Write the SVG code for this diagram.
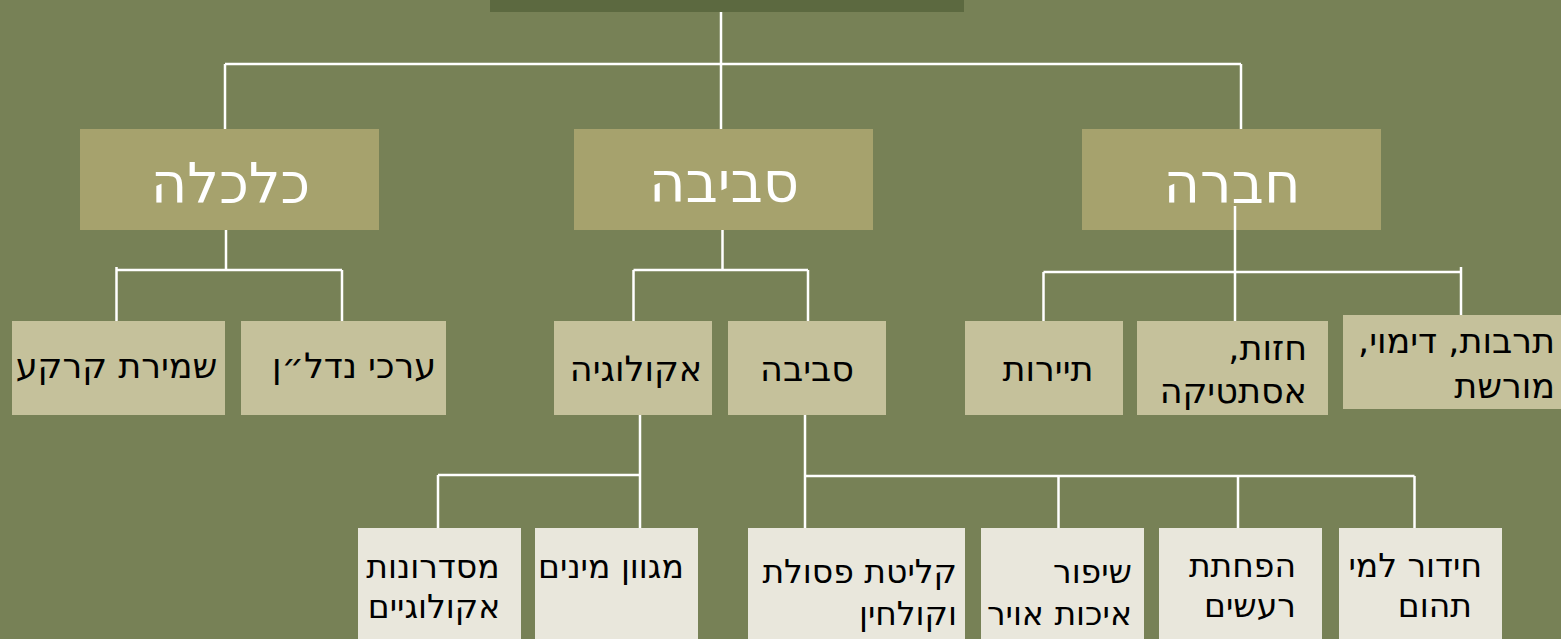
<svg xmlns="http://www.w3.org/2000/svg" width="1561" height="639" viewBox="0 0 1561 639">
<style>
.bg{fill:#778156}
.top{fill:#5c6940}
.l1{fill:#a6a26d}
.l2{fill:#c5c19b}
.l3{fill:#e9e7dc}
.t1{font-family:"DejaVu Sans",sans-serif;font-size:56px;fill:#ffffff}
.t2{font-family:"DejaVu Sans",sans-serif;font-size:35px;fill:#000000}
.t3{font-family:"DejaVu Sans",sans-serif;font-size:33px;fill:#000000}
.c line{stroke:#ffffff;stroke-width:2.5}
</style>
<rect class="bg" x="0" y="0" width="1561" height="639"/>
<g id="root"><rect class="top" x="490" y="0" width="474" height="12"/></g>
<g id="connectors" class="c">
<line x1="721" y1="12" x2="721" y2="129"/>
<line x1="225" y1="64" x2="1241" y2="64"/>
<line x1="225" y1="64" x2="225" y2="129"/>
<line x1="1241" y1="64" x2="1241" y2="129"/>
<line x1="226" y1="230" x2="226" y2="270"/>
<line x1="116.5" y1="270" x2="342" y2="270"/>
<line x1="116.5" y1="267" x2="116.5" y2="321"/>
<line x1="342" y1="270" x2="342" y2="321"/>
<line x1="722.5" y1="230" x2="722.5" y2="270"/>
<line x1="633.5" y1="270" x2="808" y2="270"/>
<line x1="633.5" y1="270" x2="633.5" y2="321"/>
<line x1="808" y1="270" x2="808" y2="321"/>
<line x1="1235" y1="206" x2="1235" y2="321"/>
<line x1="1043.5" y1="272" x2="1461" y2="272"/>
<line x1="1043.5" y1="272" x2="1043.5" y2="321"/>
<line x1="1461" y1="267" x2="1461" y2="315"/>
<line x1="640" y1="415" x2="640" y2="528"/>
<line x1="438" y1="475" x2="641" y2="475"/>
<line x1="438" y1="475" x2="438" y2="528"/>
<line x1="805" y1="415" x2="805" y2="528"/>
<line x1="805" y1="476" x2="1414.5" y2="476"/>
<line x1="1058.5" y1="476" x2="1058.5" y2="528"/>
<line x1="1238" y1="476" x2="1238" y2="528"/>
<line x1="1414.5" y1="476" x2="1414.5" y2="528"/>
</g>
<g id="n-kalkala"><rect class="l1" x="80" y="129" width="299" height="101"/><text class="t1" x="230.5" y="203" text-anchor="middle" direction="rtl">כלכלה</text></g>
<g id="n-sviva"><rect class="l1" x="574" y="129" width="299" height="101"/><text class="t1" x="724" y="202" text-anchor="middle" direction="rtl">סביבה</text></g>
<g id="n-chevra"><rect class="l1" x="1082" y="129" width="299" height="101"/><text class="t1" x="1232" y="203" text-anchor="middle" direction="rtl">חברה</text></g>
<line x1="1235" y1="206" x2="1235" y2="230" stroke="#ffffff" stroke-width="2.5"/>
<g id="n-shmirat"><rect class="l2" x="12" y="321" width="213" height="94"/><text class="t2" x="116.5" y="378" text-anchor="middle" direction="rtl">שמירת קרקע</text></g>
<g id="n-erchei"><rect class="l2" x="241" y="321" width="205" height="94"/><text class="t2" x="354" y="378" text-anchor="middle" direction="rtl">ערכי נדל״ן</text></g>
<g id="n-ecology"><rect class="l2" x="554" y="321" width="158" height="94"/><text class="t2" x="636" y="381" text-anchor="middle" direction="rtl">אקולוגיה</text></g>
<g id="n-sviva2"><rect class="l2" x="728" y="321" width="158" height="94"/><text class="t2" x="807" y="381" text-anchor="middle" direction="rtl">סביבה</text></g>
<g id="n-tayarut"><rect class="l2" x="965" y="321" width="158" height="94"/><text class="t2" x="1048" y="381" text-anchor="middle" direction="rtl">תיירות</text></g>
<g id="n-chazut"><rect class="l2" x="1137" y="321" width="191" height="94"/><text class="t2" x="1307" y="360" text-anchor="start" direction="rtl">חזות,</text><text class="t2" x="1307" y="403" text-anchor="start" direction="rtl">אסתטיקה</text></g>
<g id="n-tarbut"><rect class="l2" x="1343" y="315" width="218" height="94"/><text class="t2" x="1555" y="353" text-anchor="start" direction="rtl">תרבות, דימוי,</text><text class="t2" x="1555" y="398" text-anchor="start" direction="rtl">מורשת</text></g>
<g id="n-misdronot"><rect class="l3" x="358" y="528" width="163" height="111"/><text class="t3" x="433" y="578" text-anchor="middle" direction="rtl">מסדרונות</text><text class="t3" x="434" y="618" text-anchor="middle" direction="rtl">אקולוגיים</text></g>
<g id="n-migvan"><rect class="l3" x="535" y="528" width="163" height="111"/><text class="t3" x="611" y="578" text-anchor="middle" direction="rtl">מגוון מינים</text></g>
<g id="n-klitat"><rect class="l3" x="748" y="528" width="217" height="111"/><text class="t3" x="957" y="583" text-anchor="start" direction="rtl">קליטת פסולת</text><text class="t3" x="957" y="625" text-anchor="start" direction="rtl">וקולחין</text></g>
<g id="n-shipur"><rect class="l3" x="981" y="528" width="163" height="111"/><text class="t3" x="1132" y="583" text-anchor="start" direction="rtl">שיפור</text><text class="t3" x="1132" y="625" text-anchor="start" direction="rtl">איכות אויר</text></g>
<g id="n-hafchatat"><rect class="l3" x="1159" y="528" width="163" height="111"/><text class="t3" x="1296" y="577" text-anchor="start" direction="rtl">הפחתת</text><text class="t3" x="1296" y="617" text-anchor="start" direction="rtl">רעשים</text></g>
<g id="n-chidur"><rect class="l3" x="1339" y="528" width="163" height="111"/><text class="t3" x="1482" y="577" text-anchor="start" direction="rtl">חידור למי</text><text class="t3" x="1472" y="617" text-anchor="start" direction="rtl">תהום</text></g>
</svg>
